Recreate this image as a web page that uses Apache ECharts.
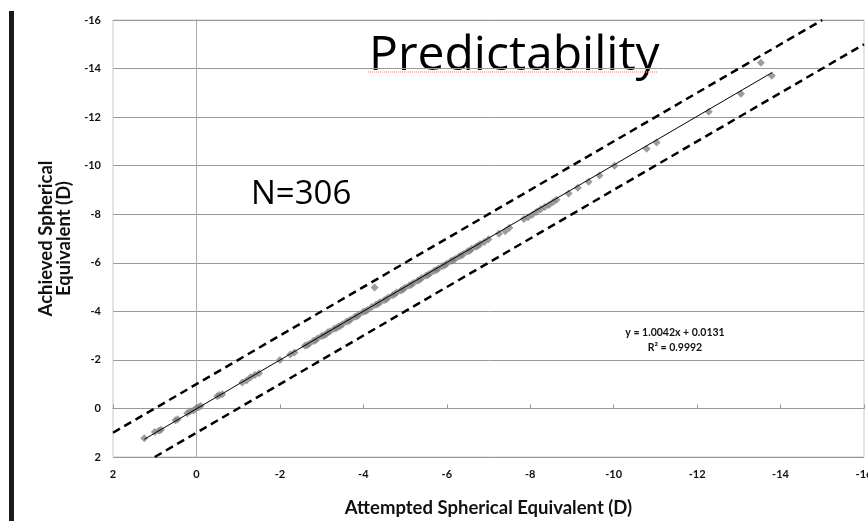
<!DOCTYPE html>
<html>
<head>
<meta charset="utf-8">
<title>Predictability</title>
<script src="https://cdn.jsdelivr.net/npm/echarts@6/dist/echarts.min.js"></script>
<style>
  html, body { margin: 0; padding: 0; background: #fff; }
  #chart { width: 868px; height: 521px; }
</style>
</head>
<body>
<div id="chart"></div>
<script>
// attempted vs achieved spherical equivalent (D)
const attempted = [
  1.25, 1.0, 0.9, 0.85, 0.5, 0.45, 0.22, 0.15, 0.07, 0, -0.05, -0.1,
  -0.5, -0.55, -0.62, -1.1, -1.2, -1.3, -1.4, -1.5,
  -2.0, -2.25, -2.35, -2.6, -2.65, -2.7, -2.8, -2.85, -2.9, -3.0, -3.05,
  -3.1, -3.15, -3.2, -3.3, -3.35, -3.4, -3.45, -3.5, -3.6, -3.65, -3.7, -3.8,
  -3.85, -3.9, -4.0, -4.05, -4.1, -4.2, -4.27, -4.3, -4.35, -4.4, -4.5, -4.55,
  -4.6, -4.7, -4.75, -4.8, -4.9, -4.95, -5.0, -5.1, -5.15, -5.2, -5.3, -5.35,
  -5.4, -5.5, -5.55, -5.6, -5.7, -5.75, -5.8, -5.9, -5.95, -6.0, -6.1, -6.15,
  -6.2, -6.3, -6.35, -6.4, -6.5, -6.55, -6.6, -6.7, -6.75, -6.8, -6.9, -7.0,
  -7.25, -7.4, -7.5, -7.85, -7.95, -8.05, -8.15, -8.25, -8.35, -8.45, -8.55,
  -8.63, -8.92, -9.14, -9.4, -9.66, -10.02, -10.79, -11.03, -12.28, -13.05,
  -13.53, -13.79
]
const achieved = [
  1.23, 0.97, 0.92, 0.88, 0.49, 0.45, 0.2, 0.12, 0.08, -0.02, -0.05, -0.1,
  -0.5, -0.55, -0.58, -1.07, -1.15, -1.28, -1.38, -1.45,
  -2.0, -2.22, -2.3, -2.58, -2.6, -2.65, -2.78, -2.8, -2.88, -2.98, -3.0,
  -3.05, -3.14, -3.17, -3.28, -3.3, -3.36, -3.4, -3.47, -3.58, -3.6, -3.66, -3.78,
  -3.8, -3.87, -3.98, -4.0, -4.06, -4.18, -4.98, -4.27, -4.3, -4.37, -4.46, -4.5,
  -4.57, -4.66, -4.7, -4.78, -4.86, -4.9, -4.97, -5.06, -5.1, -5.17, -5.26, -5.3,
  -5.37, -5.47, -5.5, -5.56, -5.67, -5.7, -5.76, -5.87, -5.9, -5.96, -6.07, -6.1,
  -6.16, -6.27, -6.3, -6.36, -6.47, -6.5, -6.58, -6.66, -6.7, -6.77, -6.86, -6.97,
  -7.2, -7.3, -7.44, -7.8, -7.88, -7.98, -8.1, -8.2, -8.3, -8.38, -8.5,
  -8.6, -8.85, -9.09, -9.34, -9.59, -10.0, -10.7, -10.95, -12.22, -12.96,
  -14.24, -13.7
]

// trend line ends and the +/-1 D dashed limits
const trendX = [1.25, -13.8]
const trendY = [1.27, -13.84]
const upperX = [2, -15]
const upperY = [1, -16]
const lowerX = [1, -16]
const lowerY = [2, -15]

const tickFont = { fontFamily: 'Lato', fontWeight: 'bold', fontSize: 11, color: '#111' }
const titleFont = { fontFamily: 'Lato', fontWeight: 'bold', fontSize: 18.5, color: '#111' }

function zip (xs, ys) {
  return xs.map((x, i) => [x, ys[i]])
}

const chart = echarts.init(document.getElementById('chart'))
const option = {
  animation: false,
  backgroundColor: '#fff',
  grid: {
    left: 113,
    right: 4,
    top: 20,
    bottom: 64,
    show: true,
    borderColor: '#c8c8c8',
    borderWidth: 1,
    outerBoundsMode: 'none'
  },
  xAxis: [
    {
      type: 'value',
      min: -16,
      max: 2,
      interval: 2,
      inverse: true,
      position: 'bottom',
      name: 'Attempted Spherical Equivalent (D)',
      nameLocation: 'middle',
      nameGap: 42,
      nameTextStyle: titleFont,
      axisLine: { show: false, onZero: false },
      axisTick: { show: false },
      splitLine: { show: false },
      axisLabel: Object.assign({ margin: 12 }, tickFont)
    },
    {
      // the x axis line sits on y = 0 with small ticks pointing up
      type: 'value',
      min: -16,
      max: 2,
      interval: 2,
      inverse: true,
      position: 'bottom',
      axisLine: { show: true, onZero: true, lineStyle: { color: '#999', width: 1 } },
      axisTick: { show: true, inside: true, length: 4, lineStyle: { color: '#999' } },
      axisLabel: { show: false },
      splitLine: { show: false }
    }
  ],
  yAxis: [
    {
      type: 'value',
      min: -16,
      max: 2,
      interval: 2,
      inverse: true,
      name: 'Achieved Spherical\nEquivalent (D)',
      nameLocation: 'middle',
      nameGap: 30,
      nameTextStyle: Object.assign({ lineHeight: 18 }, titleFont),
      axisLine: { show: false, onZero: false },
      axisTick: { show: false },
      splitLine: { lineStyle: { color: '#999', width: 1 } },
      axisLabel: Object.assign({ margin: 12 }, tickFont)
    },
    {
      type: 'value',
      min: -16,
      max: 2,
      interval: 2,
      inverse: true,
      axisLine: { show: true, onZero: true, lineStyle: { color: '#aaa', width: 1 } },
      axisTick: { show: false },
      axisLabel: { show: false },
      splitLine: { show: false }
    }
  ],
  series: [
    {
      type: 'scatter',
      symbol: 'diamond',
      symbolSize: 8,
      itemStyle: { color: '#858585' },
      data: zip(attempted, achieved)
    },
    {
      type: 'line',
      showSymbol: false,
      lineStyle: { color: '#000', width: 1 },
      data: zip(trendX, trendY)
    },
    {
      type: 'line',
      showSymbol: false,
      lineStyle: { color: '#000', width: 2.5, type: [8, 5] },
      data: zip(upperX, upperY)
    },
    {
      type: 'line',
      showSymbol: false,
      lineStyle: { color: '#000', width: 2.5, type: [8, 5] },
      data: zip(lowerX, lowerY)
    }
  ],
  graphic: [
    // slide bar on the left
    { type: 'rect', left: 9, top: 11, shape: { width: 5, height: 510 }, style: { fill: '#1a1a1a' } },
    {
      type: 'text',
      x: 369,
      y: 32,
      style: { text: 'Predictability', font: '48px "Open Sans"', fill: '#000' }
    },
    // spell check underline under the title
    {
      type: 'line',
      shape: { x1: 368, y1: 72, x2: 658, y2: 72 },
      style: { stroke: '#f2a7a7', lineWidth: 1.5, lineDash: [1, 1] }
    },
    {
      type: 'text',
      x: 251,
      y: 178,
      style: { text: 'N=306', font: '33px "Open Sans"', fill: '#000' }
    },
    {
      type: 'text',
      x: 675,
      y: 333,
      style: { text: 'y = 1.0042x + 0.0131', font: 'bold 10.5px Lato', fill: '#111', align: 'center', verticalAlign: 'middle' }
    },
    {
      type: 'text',
      x: 675,
      y: 348,
      style: { text: 'R² = 0.9992', font: 'bold 10.5px Lato', fill: '#111', align: 'center', verticalAlign: 'middle' }
    }
  ]
}
chart.setOption(option)
</script>
</body>
</html>
